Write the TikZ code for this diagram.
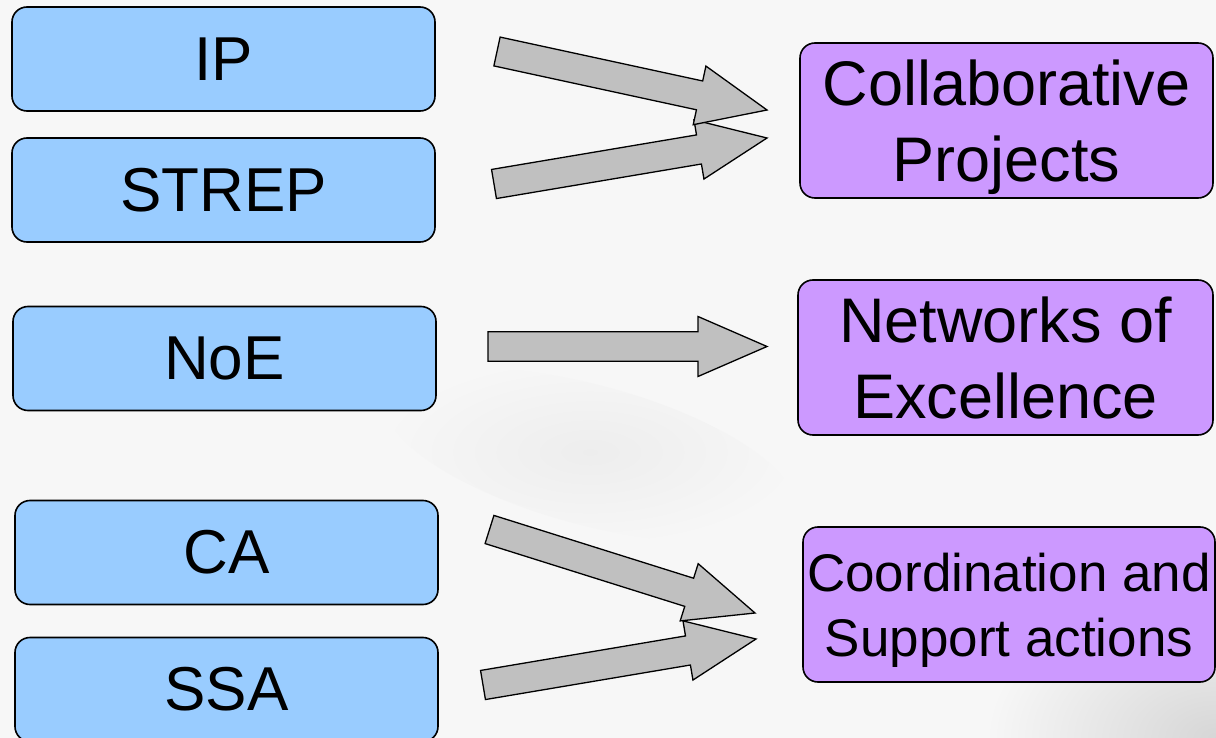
\documentclass[tikz,border=0pt]{standalone}
\usepackage{fontspec}
\setmainfont{Liberation Sans}
\usetikzlibrary{calc}

\definecolor{bgcol}{HTML}{F7F7F7}
\definecolor{typefill}{HTML}{99CCFF}
\definecolor{schemefill}{HTML}{CC99FF}
\definecolor{arrowfill}{HTML}{C0C0C0}

% Block arrow from a tail centre #1 to a tip #2
\newcommand\fatarrow[2]{%
  \coordinate (#1-base) at ($(#2)!69pt!(#1)$);
  \draw[blockarrow]
    ($(#1)!14.75pt!90:(#2)$) --
    ($(#1-base)!14.75pt!90:(#2)$) --
    ($(#1-base)!30pt!90:(#2)$) --
    (#2) --
    ($(#1-base)!30pt!-90:(#2)$) --
    ($(#1-base)!14.75pt!-90:(#2)$) --
    ($(#1)!14.75pt!-90:(#2)$) -- cycle;
}

\tikzset{
  typebox/.style={draw=black, line width=1.6pt, fill=typefill,
    rounded corners=15pt, minimum width=423pt, minimum height=104pt,
    inner sep=0pt, font=\fontsize{62}{74}\selectfont},
  schemebox/.style={draw=black, line width=1.6pt, fill=schemefill,
    rounded corners=15pt, minimum height=155pt, inner sep=0pt,
    align=center, text depth=0pt, font=\fontsize{63}{76}\selectfont},
  blockarrow/.style={draw=black, line width=1.3pt, fill=arrowfill,
    line join=miter},
}

\begin{document}
\begin{tikzpicture}[x=1pt, y=-1pt]
  % page and soft backdrop shadows
  \fill[bgcol] (0,0) rectangle (1216,738);
  \useasboundingbox (0,0) rectangle (1216,738);
  \begin{scope}
    \clip (0,0) rectangle (1216,738);
    \shade[inner color=black!7, outer color=bgcol, rotate around={-15:(590,455)}]
      (590,455) ellipse (210pt and 70pt);
    \shade[inner color=black!16, outer color=bgcol]
      (1216,738) ellipse (230pt and 150pt);
  \end{scope}

  % FP6 instruments
  \node[typebox] (ip)    at (223.5,59)   {IP};
  \node[typebox] (strep) at (223.5,190)  {STREP};
  \node[typebox] (noe)   at (224.5,358.5){NoE};
  \node[typebox] (ca)    at (226.5,552.5){CA};
  \node[typebox] (ssa)   at (226.5,689.5){SSA};

  % FP7 funding schemes
  \node[schemebox, minimum width=413pt] (cp)  at (1006.5,120.5) {Collaborative\\Projects};
  \node[schemebox, minimum width=415pt] (nex) at (1005.5,357.5) {Networks of\\Excellence};
  \node[schemebox, minimum width=412pt, font=\fontsize{53}{65}\selectfont]
    (csa) at (1009,604.5) {Coordination and\\Support actions};

  % arrow tails and tips
  \coordinate (a1) at (497,51.5);  \coordinate (t1) at (767,110);
  \coordinate (a2) at (494,184);   \coordinate (t2) at (767,138);
  \coordinate (a3) at (488,346.5); \coordinate (t3) at (767,346.5);
  \coordinate (a4) at (489.5,529.5); \coordinate (t4) at (755,613);
  \coordinate (a5) at (483,685);   \coordinate (t5) at (756,639);

  \fatarrow{a2}{t2}
  \fatarrow{a1}{t1}
  \fatarrow{a3}{t3}
  \fatarrow{a5}{t5}
  \fatarrow{a4}{t4}
\end{tikzpicture}
\end{document}
